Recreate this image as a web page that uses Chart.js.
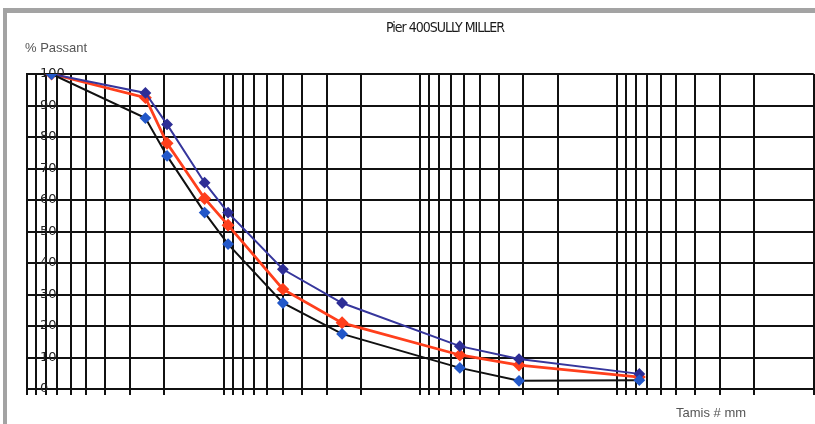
<!DOCTYPE html>
<html>
<head>
<meta charset="utf-8">
<script src="https://cdn.jsdelivr.net/npm/chart.js@4/dist/chart.umd.min.js"></script>
<style>
  html, body { margin: 0; padding: 0; background: #fff; }
  #wrap { position: relative; width: 815px; height: 424px; overflow: hidden; }
  #frameTop { position: absolute; left: 3px; top: 8px; width: 812px; height: 5px; background: #a3a3a3; }
  #frameLeft { position: absolute; left: 3px; top: 8px; width: 4px; height: 416px; background: #a3a3a3; }
  canvas { position: absolute; left: 0; top: 0; }
  .lbl { position: absolute; font-family: "Liberation Sans", Arial, sans-serif; color: #555; white-space: nowrap; }
  #title { left: 0; width: 890px; top: 19px; text-align: center; font-size: 14px; color: #1a1a1a;
           font-family: "DejaVu Sans", sans-serif; font-stretch: condensed; letter-spacing: -1px; }
  #yTitle { left: 25px; top: 40px; font-size: 13px; }
  #xTitle { left: 676px; top: 405px; font-size: 13px; }
</style>
</head>
<body>
<div id="wrap">
  <div id="frameTop"></div>
  <div id="frameLeft"></div>
  <canvas id="grading" width="821" height="424"></canvas>
  <div class="lbl" id="title">Pier 400SULLY MILLER</div>
  <div class="lbl" id="yTitle">% Passant</div>
  <div class="lbl" id="xTitle">Tamis # mm</div>
</div>
<script>
// sieve openings in mm, as placed on the log axis
const sieves = [75, 25, 19.4, 12.5, 9.5, 5, 2.5, 0.63, 0.315, 0.077];

// % passing
const upperBand = [100, 94, 84, 65.5, 56, 38, 27.3, 13.6, 9.5, 4.8];
const sample = [100, 92.5, 78, 60.5, 52, 31.7, 21, 10.8, 7.6, 3.8];
const lowerBand = [100, 86, 74, 56, 46, 27.3, 17.5, 6.7, 2.6, 2.8];

const yTicks = [0, 10, 20, 30, 40, 50, 60, 70, 80, 90, 100];

const toPoints = values => sieves.map((s, i) => ({x: s, y: values[i]}));

// grid lines for each 1..9 x 10^k between 0.01 and 100
const logGrid = () => {
    const out = [];
    for (let k = -2; k < 2; k++) {
        for (let m = 1; m <= 9; m++) out.push({value: +(m * Math.pow(10, k)).toPrecision(3)});
    }
    out.push({value: 100});
    return out;
};

const serie = (values, line, marker, width) => ({
    data: toPoints(values),
    borderColor: line,
    borderWidth: width,
    backgroundColor: marker,
    pointBackgroundColor: marker,
    pointBorderColor: marker,
    pointStyle: 'rectRot',
    pointRadius: 4.5,
    tension: 0
});

new Chart(document.getElementById('grading'), {
    type: 'line',
    data: {
        datasets: [
            serie(lowerBand, '#111111', '#2358c9', 2),
            serie(upperBand, '#36369c', '#2e2e96', 2),
            serie(sample, '#ff3f1c', '#ff3f1c', 2.8)
        ]
    },
    options: {
        responsive: false,
        animation: false,
        layout: {padding: {left: 1, top: 74, right: 0, bottom: 29}},
        plugins: {legend: {display: false}, tooltip: {enabled: false}},
        scales: {
            x: {
                type: 'logarithmic',
                reverse: true,
                min: 0.01,
                max: 100,
                afterBuildTicks: axis => { axis.ticks = logGrid(); },
                ticks: {display: false},
                grid: {color: '#111', lineWidth: 2, drawTicks: true, tickLength: 6, tickColor: '#111'},
                border: {color: '#111', width: 2}
            },
            y: {
                min: 0,
                max: 100,
                afterBuildTicks: axis => { axis.ticks = yTicks.map(v => ({value: v})); },
                ticks: {
                    mirror: true,
                    padding: 13,
                    color: '#222',
                    font: {family: 'DejaVu Sans', size: 13}
                },
                grid: {color: '#111', lineWidth: 2, drawTicks: false},
                border: {color: '#111', width: 2}
            }
        }
    }
});
</script>
</body>
</html>
